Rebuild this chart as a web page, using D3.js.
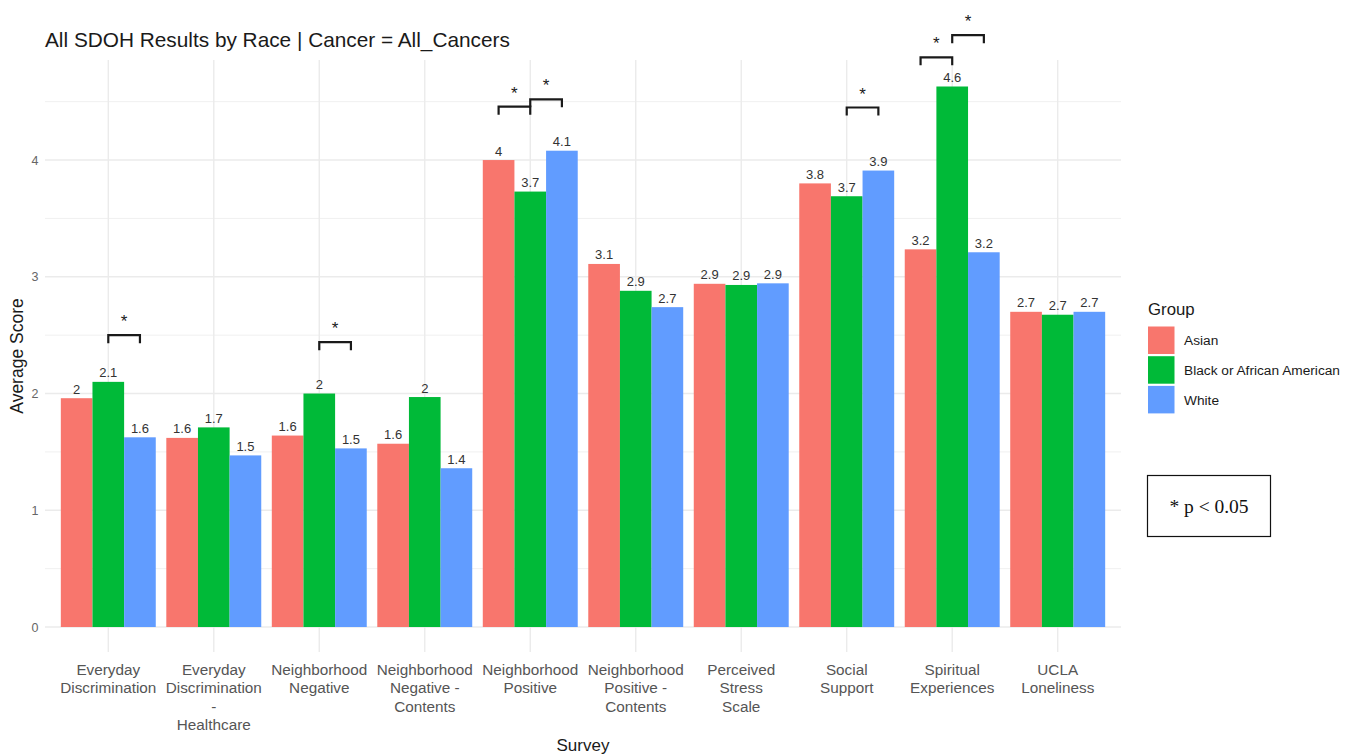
<!DOCTYPE html>
<html><head><meta charset="utf-8">
<script src="https://cdn.jsdelivr.net/npm/d3@7"></script>
<style>
body{margin:0;background:#fff;}
svg text{font-family:"Liberation Sans",Arial,Helvetica,sans-serif;}
</style>
</head><body>
<svg id="chart" width="1351" height="755"></svg>
<script>
// ---------- data ----------
const surveys = ["Everyday Discrimination","Everyday Discrimination - Healthcare","Neighborhood Negative",
  "Neighborhood Negative - Contents","Neighborhood Positive","Neighborhood Positive - Contents",
  "Perceived Stress Scale","Social Support","Spiritual Experiences","UCLA Loneliness"];
const surveyLabelLines = [["Everyday","Discrimination"],["Everyday","Discrimination","-","Healthcare"],
  ["Neighborhood","Negative"],["Neighborhood","Negative -","Contents"],["Neighborhood","Positive"],
  ["Neighborhood","Positive -","Contents"],["Perceived","Stress","Scale"],["Social","Support"],
  ["Spiritual","Experiences"],["UCLA","Loneliness"]];
const groups = ["Asian","Black or African American","White"];
const asianScores = [1.96,1.62,1.64,1.57,4.00,3.11,2.94,3.80,3.235,2.70];
const blackScores = [2.10,1.71,2.00,1.97,3.73,2.88,2.93,3.69,4.63,2.675];
const whiteScores = [1.625,1.47,1.53,1.36,4.08,2.74,2.944,3.91,3.21,2.70];
const yTicks = [0,1,2,3,4];
const yMinorTicks = [0.5,1.5,2.5,3.5,4.5];
// significance brackets
const sigSurvey = [0,2,4,4,7,8,8];
const sigFrom   = [1,1,0,1,1,0,1];
const sigTo     = [2,2,1,2,2,1,2];
const sigY      = [2.50,2.44,4.457,4.52,4.45,4.88,5.07];
const colors = ["#F8766D","#00BA38","#619CFF"];

// ---------- layout ----------
const svg = d3.select("#chart");
const panel = {left:45, right:1121, top:60, bottom:652};

const x = d3.scaleBand().domain(surveys).range([panel.left, panel.right])
  .paddingInner(0.1).paddingOuter(0.15);
const xg = d3.scaleBand().domain(groups).range([0, x.bandwidth()]);
const y = d3.scaleLinear().domain([-0.214, 4.857]).range([panel.bottom, panel.top]);

const seriesVals = [asianScores, blackScores, whiteScores];
const rows = [];
surveys.forEach((s,i)=>groups.forEach((g,j)=>rows.push({s, g, j, v: seriesVals[j][i]})));

// gridlines
const grid = svg.append("g");
grid.selectAll(".minor").data(yMinorTicks).join("line")
  .attr("x1",panel.left).attr("x2",panel.right)
  .attr("y1",d=>y(d)).attr("y2",d=>y(d))
  .attr("stroke","#f0f0f0").attr("stroke-width",1);
grid.selectAll(".major").data(yTicks).join("line")
  .attr("x1",panel.left).attr("x2",panel.right)
  .attr("y1",d=>y(d)).attr("y2",d=>y(d))
  .attr("stroke","#ebebeb").attr("stroke-width",1.4);
grid.selectAll(".vx").data(surveys).join("line")
  .attr("x1",d=>x(d)+x.bandwidth()/2).attr("x2",d=>x(d)+x.bandwidth()/2)
  .attr("y1",panel.top).attr("y2",panel.bottom)
  .attr("stroke","#ebebeb").attr("stroke-width",1.4);

// bars
svg.append("g").selectAll("rect").data(rows).join("rect")
  .attr("x",d=>x(d.s)+xg(d.g))
  .attr("width",xg.bandwidth())
  .attr("y",d=>y(d.v))
  .attr("height",d=>y(0)-y(d.v))
  .attr("fill",d=>colors[d.j]);

// value labels
const fmt = v => String(+v.toFixed(1));
svg.append("g").selectAll("text").data(rows).join("text")
  .attr("x",d=>x(d.s)+xg(d.g)+xg.bandwidth()/2)
  .attr("y",d=>y(d.v)-4.5)
  .attr("text-anchor","middle")
  .attr("font-size","13px").attr("fill","#333")
  .text(d=>fmt(d.v));

// y axis tick labels
svg.append("g").selectAll("text").data(yTicks).join("text")
  .attr("x",38.5).attr("y",d=>y(d)).attr("dy","0.36em")
  .attr("text-anchor","end").attr("font-size","12.5px").attr("fill","#666")
  .text(d=>d);

// x axis labels
const xl = svg.append("g").selectAll("text").data(surveys).join("text")
  .attr("text-anchor","middle").attr("font-size","15.3px").attr("fill","#555")
  .attr("transform",d=>`translate(${x(d)+x.bandwidth()/2},674.5)`);
xl.each(function(d,i){
  d3.select(this).selectAll("tspan").data(surveyLabelLines[i]).join("tspan")
    .attr("x",0).attr("y",(l,k)=>k*18.6).text(l=>l);
});

// axis titles
svg.append("text").attr("x",(panel.left+panel.right)/2).attr("y",751)
  .attr("text-anchor","middle").attr("font-size","17px").attr("fill","#1a1a1a").text("Survey");
svg.append("text").attr("transform",`translate(23,${(panel.top+panel.bottom)/2}) rotate(-90)`)
  .attr("text-anchor","middle").attr("font-size","17.5px").attr("fill","#1a1a1a").text("Average Score");

// title
svg.append("text").attr("x",45).attr("y",47).attr("font-size","20.8px").attr("fill","#1a1a1a")
  .text("All SDOH Results by Race | Cancer = All_Cancers");

// significance brackets
const br = svg.append("g");
sigSurvey.forEach((si,k)=>{
  const s = surveys[si];
  const x1 = x(s)+xg(groups[sigFrom[k]])+xg.bandwidth()/2;
  const x2 = x(s)+xg(groups[sigTo[k]])+xg.bandwidth()/2;
  const yy = y(sigY[k]);
  br.append("path")
    .attr("d",`M${x1},${yy+8}V${yy}H${x2}V${yy+8}`)
    .attr("fill","none").attr("stroke","#1a1a1a").attr("stroke-width",2.2);
  br.append("text").attr("x",(x1+x2)/2).attr("y",yy-8)
    .attr("text-anchor","middle").attr("font-size","17px").attr("fill","#1a1a1a").text("*");
});

// legend
const lg = svg.append("g");
lg.append("text").attr("x",1148).attr("y",315).attr("font-size","16.8px").attr("fill","#1a1a1a").text("Group");
groups.forEach((g,j)=>{
  const top = 326.5 + j*29.7;
  lg.append("rect").attr("x",1148).attr("y",top).attr("width",26.5).attr("height",27.5).attr("fill",colors[j]);
  lg.append("text").attr("x",1184).attr("y",top+13.75).attr("dy","0.36em")
    .attr("font-size","13.7px").attr("fill","#1a1a1a").text(g);
});

// p-value note
svg.append("rect").attr("x",1147.5).attr("y",475.5).attr("width",123).attr("height",61)
  .attr("fill","#fff").attr("stroke","#111").attr("stroke-width",1.2);
svg.append("text").attr("x",1209).attr("y",506).attr("dy","0.35em").attr("text-anchor","middle")
  .style("font-family","'Liberation Serif','Times New Roman',serif").attr("font-size","19.5px")
  .attr("fill","#111").text("* p < 0.05");
</script>
</body></html>
